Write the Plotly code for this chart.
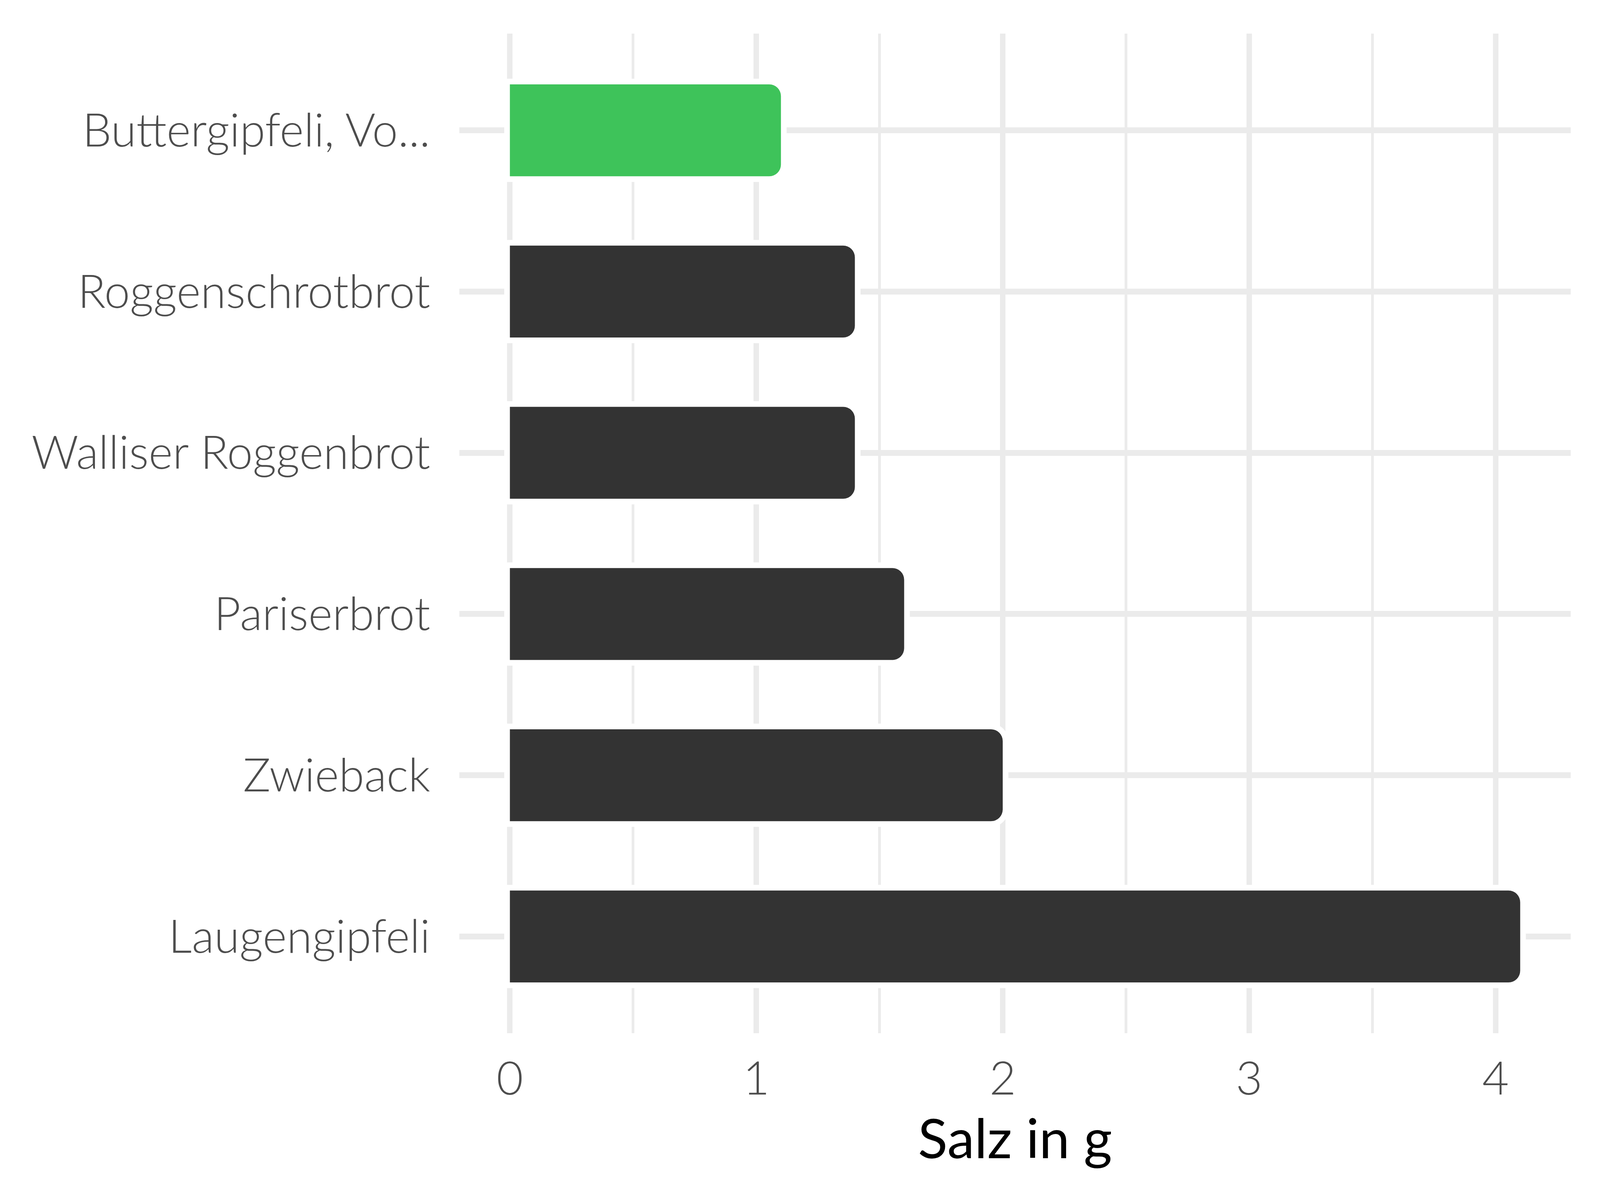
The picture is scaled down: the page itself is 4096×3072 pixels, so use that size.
import plotly.graph_objects as go

categories = ["Buttergipfeli, Vo...", "Roggenschrotbrot", "Walliser Roggenbrot",
              "Pariserbrot", "Zwieback", "Laugengipfeli"]
salz = [1.1, 1.4, 1.4, 1.6, 2.0, 4.1]
bar_colors = ["#3EC35A", "#333333", "#333333", "#333333", "#333333", "#333333"]
x_ticks = [0, 1, 2, 3, 4]

W, H = 4096, 3072
grid = "#EBEBEB"
font_family = "Lato, 'Open Sans', sans-serif"

fig = go.Figure()
# white halo behind bars (gridlines stop short of the bars)
fig.add_trace(go.Bar(
    x=salz, y=categories, orientation="h", width=0.57,
    marker=dict(color="white", line=dict(color="white", width=29), cornerradius=30),
    hoverinfo="skip", showlegend=False,
))
fig.add_trace(go.Bar(
    x=salz, y=categories, orientation="h", width=0.57,
    marker=dict(color=bar_colors, line=dict(width=0), cornerradius=30),
    showlegend=False,
))

fig.update_layout(
    width=W, height=H, barmode="overlay",
    paper_bgcolor="white", plot_bgcolor="white",
    margin=dict(l=1168, r=83, t=78, b=435, autoexpand=False),
    font=dict(family=font_family, color="#4D4D4D", size=118),
    xaxis=dict(
        range=[-0.205, 4.305], tickvals=x_ticks, ticktext=[str(v) for v in x_ticks],
        showgrid=True, gridcolor=grid, gridwidth=14, zeroline=False,
        minor=dict(dtick=0.5, tick0=0, showgrid=True, gridcolor=grid, gridwidth=7),
        ticks="outside", ticklen=14, tickcolor="rgba(0,0,0,0)",
        tickfont=dict(size=118, color="#4D4D4D", family=font_family, weight=300),
        showline=False, automargin=False,
        title=dict(text="Salz in g", font=dict(size=140, color="#000000", family=font_family, weight=400),
                   standoff=33),
    ),
    yaxis=dict(
        categoryorder="array", categoryarray=categories,
        range=[5.6, -0.6],
        showgrid=True, gridcolor=grid, gridwidth=14.5, zeroline=False,
        ticks="outside", ticklen=50, tickcolor="rgba(0,0,0,0)",
        tickfont=dict(size=118, color="#4D4D4D", family=font_family, weight=300),
        showline=False, automargin=False,
    ),
)

fig.write_html("out.html")
